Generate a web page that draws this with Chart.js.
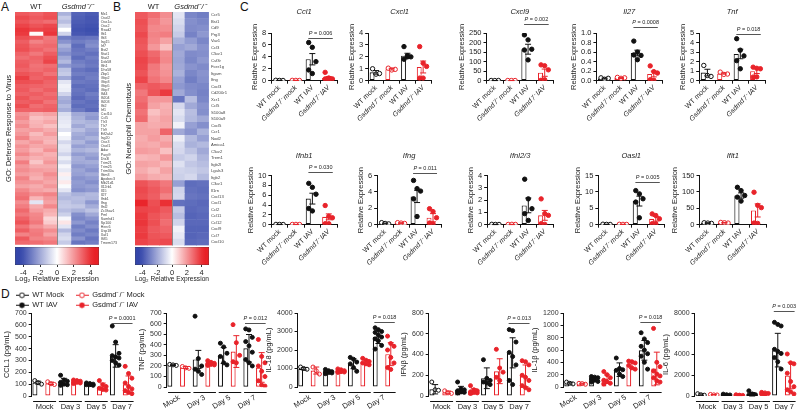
<!DOCTYPE html>
<html>
<head>
<meta charset="utf-8">
<script src="https://cdn.jsdelivr.net/npm/chart.js@4.4.1/dist/chart.umd.min.js"></script>
<style>
  body { margin: 0; background: #fff; }
  #fig { position: relative; width: 800px; height: 410px; overflow: hidden; font-family: "Liberation Sans", Arial, sans-serif; }
  #fig canvas { position: absolute; }
  .panel { position: absolute; font-size: 12px; color: #111; line-height: 12px; }
</style>
</head>
<body>
<div id="fig">
  <div class="panel" style="left:1px;top:1px">A</div>
  <div class="panel" style="left:113px;top:1px">B</div>
  <div class="panel" style="left:240px;top:1px">C</div>
  <div class="panel" style="left:1px;top:288px">D</div>
</div>
<script>
// ------------------ DATA -------------------//
const heatGroups = ["WT", "Gsdmd⁻/⁻"];
const colorRange = [-5, 5];
const colorTicks = [-4, -2, 0, 2, 4];

const defenseGenes = ["Mx1","Oasl2","Oas1a","Oas2","Rsad2","Ifit1","Ifit3","Isg15","Irf7","Bst2",
  "Stat1","Stat2","Ddx58","Ifih1","Dhx58","Zbp1","Gbp2","Gbp3","Gbp5","Gbp7",
  "Ifi44","Ifi204","Ifi203","Ifit2","Irf1","Cxcl10","Ccl5","Tlr3","Tlr7","Tlr9",
  "Eif2ak2","Isg20","Oas3","Oasl1","Adar","Parp9","Dtx3l","Trim21","Trim25","Trim30a",
  "Ifitm3","Apobec3","Mb21d1","Il12rb1","Il15","Il27","Ifnb1","Ifng","Ifnl2","Zc3hav1",
  "Pml","Samhd1","Sp100","Herc6","Usp18","Xaf1","Ifi35","Tmem173"];
// rows: WT1, WT2, WT3, KO1, KO2, KO3 (log2 relative expression)
const defenseHeat = [
  [3.2,3.0,3.3,-1.8,-3.6,-3.8],[3.5,3.2,3.4,-1.2,-3.7,-3.9],[3.3,3.0,2.8,-1.5,-3.8,-3.9],
  [3.6,3.3,3.5,-0.9,-3.9,-4.0],[3.9,3.6,3.7,0.0,-4.0,-4.1],[3.8,0.1,3.9,-1.0,-3.9,-4.0],
  [3.4,3.2,2.6,-3.0,-3.3,-3.2],[3.1,2.4,2.7,-2.5,-3.0,-2.8],[3.3,2.8,2.9,-1.8,-3.4,-2.6],
  [3.4,3.0,2.7,-2.2,-3.2,-3.0],[3.0,2.6,3.1,-2.6,-3.1,-3.3],[2.8,3.0,3.4,-2.0,-3.4,-3.0],
  [3.1,2.9,3.6,-1.6,-3.0,-3.2],[3.2,2.7,2.8,-2.4,-2.8,-3.1],[3.0,2.8,3.0,-1.4,-3.2,-3.4],
  [3.3,3.1,2.7,-1.2,-3.0,-3.1],[3.7,3.0,3.2,-2.0,-3.3,-3.0],[3.4,3.3,3.0,-0.6,-3.1,-3.2],
  [3.1,3.0,2.9,-0.3,-3.4,-3.3],[3.2,2.8,3.1,-0.4,-3.2,-3.4],[3.0,3.1,2.8,-1.0,-3.3,-3.0],
  [3.3,2.9,3.0,-1.8,-3.5,-3.2],[3.1,3.2,2.7,-2.0,-3.2,-3.4],[3.4,2.8,3.0,-1.6,-3.4,-3.3],
  [3.0,3.0,3.1,-1.9,-3.1,-3.5],[2.1,1.6,1.8,-0.8,-2.0,-2.2],[2.3,1.2,1.4,-0.6,-1.8,-2.4],
  [1.9,1.4,1.7,-0.5,-1.6,-1.8],[2.2,1.5,1.2,-0.4,-2.0,-1.6],[1.8,1.9,1.6,-0.7,-1.5,-2.0],
  [2.0,1.3,1.9,0.0,-1.9,-2.2],[2.4,1.6,1.5,-0.3,-2.1,-1.8],[1.7,2.0,1.4,-0.9,-1.7,-2.3],
  [2.1,1.7,1.8,-0.5,-2.2,-2.0],[1.9,1.4,2.1,-0.6,-1.8,-1.6],[2.3,1.8,1.5,-1.0,-2.3,-2.1],
  [1.8,1.5,1.7,-0.4,-1.9,-2.4],[2.5,1.1,2.0,-0.8,-2.0,-1.9],[2.0,1.6,1.6,-0.2,-2.4,-2.2],
  [2.2,1.9,1.8,-0.5,-2.1,-2.5],[1.9,1.7,2.2,0.3,-2.2,-2.0],[2.4,1.5,1.9,-0.3,-2.5,-2.3],
  [2.1,2.0,1.7,0.4,-2.3,-2.6],[1.8,1.6,2.0,-0.1,-2.4,-2.2],[2.3,1.8,1.6,-0.6,-2.6,-2.4],
  [2.6,2.2,2.4,-1.4,-1.8,-1.6],[2.8,1.4,2.0,-1.6,-1.5,-1.7],[2.2,-0.6,1.8,-1.3,-1.6,-2.4],
  [2.5,1.6,2.3,-1.2,-1.3,-1.9],[2.9,1.9,1.6,-1.5,-1.8,-1.4],[2.6,2.3,1.4,-1.1,-2.6,-2.0],
  [3.0,2.4,0.8,-0.2,-2.8,-2.5],[3.3,2.6,1.0,0.5,-2.4,-2.9],[2.7,2.1,1.6,-0.6,-3.0,-2.6],
  [3.1,2.5,2.2,-1.6,-2.7,-3.1],[2.4,2.6,1.8,-1.0,-3.0,-2.8],[3.2,2.4,2.3,-0.8,-2.5,-3.2],
  [2.9,2.8,2.6,-1.2,-3.2,-3.0]
];

const neutroGenes = ["Ccr5","Bst1","Cd9","Prg3","Vav1","Ccl3","C5ar1","Csf3r","Fcer1g","Itgam",
  "Ifng","Cxcl3","Cd200r1","Xcr1","Ccl5","S100a8","S100a9","Cxcl5","Ccr1","Nod2",
  "Amica1","C5ar2","Trem1","Itgb2l","Lgals3","Itgb2","C3ar1","Il1rn","Cxcl13","Cxcl1",
  "Ccl2","Ccl11","Ccl12","Cxcl9","Ccl7","Cxcl10"];
const neutroHeat = [
  [3.2,2.8,2.2,-0.6,-2.8,-3.0],[3.4,2.5,2.0,-0.8,-2.6,-2.8],[3.3,2.3,2.2,-1.0,-2.7,-2.6],
  [3.5,2.4,2.5,-1.2,-2.9,-2.4],[3.3,2.3,1.8,-1.8,-2.3,-2.8],[3.2,2.0,1.2,-2.2,-2.0,-2.5],
  [3.4,2.9,2.2,-2.0,-2.7,-2.6],[3.6,3.1,2.3,-2.1,-2.8,-2.4],[3.5,2.6,2.0,-2.0,-2.5,-2.7],
  [3.3,2.5,2.1,-1.8,-2.8,-2.5],[3.6,2.7,2.3,-2.2,-3.0,-2.6],[3.0,3.2,3.0,-2.4,-2.7,-2.8],
  [2.6,3.3,3.8,-2.0,-2.6,-2.9],[2.8,2.0,2.0,-3.2,-1.5,-2.8],[3.0,1.8,1.5,-0.9,-2.0,-2.5],
  [2.7,1.2,1.6,-0.6,-1.5,-2.6],[2.9,1.5,1.8,-0.8,-1.6,-2.0],[1.8,1.6,1.7,-0.3,-2.2,-2.6],
  [1.8,1.8,3.0,-2.0,-2.5,-1.8],[1.6,1.9,1.6,-0.4,-1.6,-2.2],[1.7,1.6,1.9,-0.8,-1.8,-1.6],
  [1.9,1.8,1.2,-0.9,-1.4,-2.0],[1.4,1.5,2.0,-1.2,-1.0,-1.7],[1.8,1.7,1.4,-0.7,-1.3,-1.5],
  [1.6,1.3,1.8,-1.0,-1.1,-1.3],[1.9,1.6,1.5,-1.1,-0.9,-1.6],[3.3,3.0,2.6,-2.2,-3.4,-3.3],
  [3.5,3.2,2.8,-1.0,-3.3,-3.4],[3.4,3.1,2.4,-0.9,-3.2,-3.3],[4.2,3.4,4.0,-3.3,-3.4,-3.5],
  [3.6,3.5,3.2,-1.2,-3.5,-3.4],[3.8,3.3,3.0,-1.5,-3.6,-3.5],[3.9,3.4,2.8,-1.0,-3.5,-3.5],
  [3.7,3.2,3.0,-0.3,-3.6,-3.6],[3.8,3.3,3.2,-0.5,-3.6,-3.5],[3.6,3.4,3.5,-0.8,-3.5,-3.4]
];

// qPCR panels: WT mock, Gsdmd mock, WT IAV, Gsdmd IAV
const exprLabels = ["WT mock", "Gsdmd⁻/⁻ mock", "WT IAV", "Gsdmd⁻/⁻ IAV"];
const ccl1Bar = [0.05, 0.05, 3.6, 0.45];
const ccl1Err = [0.02, 0.02, 0.95, 0.25];
const ccl1Pts = [[0.07, 0.05, 0.04], [0.06, 0.05, 0.04], [6.4, 5.6, 3.2, 1.8, 1.2], [1.4, 0.45, 0.3, 0.3, 0.25]];
const cxcl1Bar = [0.7, 0.97, 2.1, 1.15];
const cxcl1Err = [0.15, 0.07, 0.2, 0.5];
const cxcl1Pts = [[1.0, 0.55, 0.6], [1.05, 0.9, 0.95], [2.86, 2.0, 2.0, 1.8, 2.1], [2.86, 1.47, 1.2, 0.22, 0.22]];
const cxcl9Bar = [1, 1, 165, 42];
const cxcl9Err = [0.3, 0.3, 26, 19];
const cxcl9Pts = [[1.2, 0.8, 1.0], [1.1, 0.9, 1.0], [240, 214, 165, 161, 109], [83, 78, 57, 2, 5]];
const il27Bar = [0.045, 0.055, 0.58, 0.14];
const il27Err = [0.01, 0.01, 0.06, 0.06];
const il27Pts = [[0.06, 0.03, 0.05], [0.07, 0.05, 0.06], [0.83, 0.6, 0.53, 0.54, 0.44], [0.31, 0.19, 0.16, 0.02, 0.01]];
const tnfBar = [0.85, 0.75, 2.8, 1.0];
const tnfErr = [0.35, 0.06, 0.5, 0.25];
const tnfPts = [[1.6, 0.55, 0.45], [0.9, 0.66, 0.7], [4.4, 3.2, 2.6, 2.1, 1.25], [1.42, 1.3, 1.25, 0.38, 0.4]];
const ifnb1Bar = [0.05, 0.05, 5.3, 1.6];
const ifnb1Err = [0.02, 0.02, 1.1, 0.6];
const ifnb1Pts = [[0.06, 0.05, 0.04], [0.05, 0.06, 0.04], [8.4, 7.6, 6.2, 3.3, 2.8], [3.9, 1.7, 1.4, 0.2, 0.2]];
const ifngBar = [0.15, 0.2, 3.45, 0.85];
const ifngErr = [0.05, 0.04, 0.75, 0.5];
const ifngPts = [[0.25, 0.15, 0.1], [0.25, 0.2, 0.15], [5.4, 4.4, 4.1, 3.15, 1.0], [1.95, 1.6, 0.85, 0.2, 0.1]];
const ifnl23Bar = [0.02, 0.02, 1.57, 0.76];
const ifnl23Err = [0.01, 0.01, 0.6, 0.4];
const ifnl23Pts = [[0.03, 0.02, 0.02], [0.02, 0.03, 0.02], [3.7, 2.1, 1.3, 0.9, 0.35], [2.1, 0.9, 0.76, 0.08, 0.03]];
const oasl1Bar = [0.1, 0.1, 7.2, 1.8];
const oasl1Err = [0.03, 0.03, 1.5, 0.7];
const oasl1Pts = [[0.15, 0.1, 0.08], [0.12, 0.1, 0.08], [10.4, 9.4, 7.9, 6.9, 2.1], [3.3, 2.8, 1.8, 0.3, 0.3]];
const ifit1Bar = [5, 6, 89, 43.5];
const ifit1Err = [1, 1, 8, 20];
const ifit1Pts = [[6, 5, 4], [7, 6, 5], [114, 104, 89, 84, 72], [99, 59, 52, 5, 4]];

// cytokine panels: Mock, Day 3, Day 5, Day 7 x (WT, Gsdmd)
const cytoCats = ["Mock WT", "Mock KO", "D3 WT", "D3 KO", "D5 WT", "D5 KO", "D7 WT", "D7 KO"];
const cytoGroups = ["Mock", "Day 3", "Day 5", "Day 7"];
const legendWt = ["WT Mock", "WT IAV"];
const legendKo = ["Gsdmd⁻/⁻ Mock", "Gsdmd⁻/⁻ IAV"];
const ccl1PgBar = [113, 107, 121, 121, 99, 79, 338, 99];
const ccl1PgErr = [12, 10, 28, 10, 8, 30, 95, 70];
const ccl1PgPts = [[130, 112, 100], [120, 103, 97], [175, 135, 125, 115, 100, 95, 90], [135, 130, 125, 120, 115, 110, 105],
  [110, 105, 100, 95, 95, 90], [130, 95, 80, 65, 55, 50], [590, 455, 360, 340, 330, 320, 300, 280, 260], [250, 190, 150, 110, 80, 60, 45, 30, 20]];
const tnfPgBar = [210, 185, 262, 222, 298, 336, 367, 186];
const tnfPgErr = [6, 9, 85, 15, 75, 150, 130, 140];
const tnfPgPts = [[215, 210, 205], [195, 182, 178], [670, 270, 200, 170, 150, 120], [250, 235, 225, 220, 215, 210, 205],
  [415, 380, 320, 290, 230, 210], [590, 420, 300, 240, 230], [550, 540, 470, 430, 390, 330, 260, 230, 200], [450, 290, 230, 200, 150, 100, 60, 20, 10]];
const il18PgBar = [985, 890, 805, 855, 1260, 1340, 2710, 1775];
const il18PgErr = [60, 190, 75, 60, 270, 130, 360, 620];
const il18PgPts = [[1080, 1000, 960], [1080, 880, 700], [950, 880, 830, 800, 780, 760, 720], [980, 930, 880, 850, 830, 810, 790],
  [1600, 1500, 1350, 1250, 1050, 850], [1550, 1450, 1380, 1300, 1250, 1200], [3200, 3100, 3000, 2950, 2800, 2700, 2600, 2500, 2250, 2050], [2750, 2350, 2200, 2000, 1600, 1300, 1050, 950]];
const ifnbPgBar = [65, 35, 58, 45, 171, 239, 416, 194];
const ifnbPgErr = [45, 13, 35, 25, 100, 120, 145, 105];
const ifnbPgPts = [[135, 60, 55], [50, 30, 25], [135, 70, 60, 50, 40, 35, 30], [100, 60, 50, 40, 35, 30, 25],
  [350, 170, 150, 135, 125, 110], [450, 270, 230, 180, 150], [640, 630, 520, 420, 380, 300, 150, 110], [340, 330, 300, 200, 180, 150, 100, 80, 60]];
const il1bPgBar = [63, 53, 126, 126, 281, 353, 595, 300];
const il1bPgErr = [15, 8, 35, 70, 110, 55, 160, 265];
const il1bPgPts = [[80, 60, 50], [60, 55, 45], [170, 160, 150, 130, 110, 90, 80], [250, 200, 150, 110, 90, 60, 50],
  [470, 300, 280, 270, 210, 170], [420, 410, 390, 350, 310, 290], [880, 780, 720, 660, 600, 540, 500, 400, 290], [950, 400, 330, 260, 210, 180, 150, 100, 80]];
const il6PgBar = [130, 120, 100, 70, 160, 240, 4420, 1970];
const il6PgErr = [70, 25, 50, 30, 170, 80, 1620, 1280];
const il6PgPts = [[220, 120, 80], [150, 110, 100], [180, 120, 100, 80, 60], [120, 80, 60, 50, 40],
  [500, 200, 120, 80, 60], [350, 300, 250, 200, 150], [7100, 6900, 6750, 4500, 4300, 4100, 3700, 3300, 2600], [4050, 3200, 3100, 2200, 1400, 900, 600, 400, 200]];

// ------------------ SETUP -------------------//
const BLACK = "#111", RED = "#e8232a";
const fig = document.getElementById("fig");
Chart.defaults.font.family = '"Liberation Sans", Arial, sans-serif';
Chart.defaults.font.size = 7;
Chart.defaults.color = "#222";
Chart.defaults.responsive = false;
Chart.defaults.animation = false;
Chart.defaults.events = [];
Chart.defaults.plugins.legend.display = false;
Chart.defaults.plugins.tooltip.enabled = false;
const noGrid = { display: false, drawTicks: false };

function heatColor(v) {
  const t = Math.max(-1, Math.min(1, v / 4.3));
  const end = t < 0 ? [52, 70, 170] : [232, 32, 38];
  const a = Math.abs(t);
  return "rgb(" + end.map(e => Math.round(255 + (e - 255) * a)).join(",") + ")";
}
const jit = (k, w) => ((k % 3) - 1) * w;

// error bars drawn from the value scale
const errBars = {
  id: "errbars",
  afterDatasetsDraw(chart, args, o) {
    if (!o || !o.bar) return;
    const { ctx, scales: { x, y } } = chart;
    ctx.save();
    ctx.lineWidth = 1;
    o.bar.forEach((m, i) => {
      const px = x.getPixelForValue(i);
      const top = y.getPixelForValue(m + o.err[i]);
      const bot = y.getPixelForValue(Math.max(m - o.err[i], 0));
      ctx.strokeStyle = o.colors[i % o.colors.length];
      ctx.beginPath();
      ctx.moveTo(px, top); ctx.lineTo(px, bot);
      ctx.moveTo(px - o.cap, top); ctx.lineTo(px + o.cap, top);
      ctx.moveTo(px - o.cap, bot); ctx.lineTo(px + o.cap, bot);
      ctx.stroke();
    });
    ctx.restore();
  }
};
// P value bracket
const pBracket = {
  id: "pbracket",
  afterDatasetsDraw(chart, args, o) {
    if (!o || !o.text) return;
    const { ctx, scales: { x, y } } = chart;
    const x1 = x.getPixelForValue(o.from) - 4, x2 = x.getPixelForValue(o.to) + 4;
    const py = Math.round(y.getPixelForValue(o.y)) + 0.5;
    ctx.save();
    ctx.strokeStyle = "#555"; ctx.lineWidth = 1;
    ctx.beginPath(); ctx.moveTo(x1, py); ctx.lineTo(x2, py); ctx.stroke();
    ctx.fillStyle = "#222"; ctx.textBaseline = "bottom";
    const fam = Chart.defaults.font.family;
    ctx.font = "italic 5.5px " + fam;
    const pw = ctx.measureText("P").width;
    ctx.font = "5.5px " + fam;
    const rest = " = " + o.text;
    const tw = pw + ctx.measureText(rest).width;
    const sx = (x1 + x2) / 2 - tw / 2;
    ctx.fillText(rest, sx + pw, py - 2);
    ctx.font = "italic 5.5px " + fam;
    ctx.fillText("P", sx, py - 2);
    ctx.restore();
  }
};
// segmented x axis under the day groups
const groupLines = {
  id: "groupLines",
  afterDraw(chart, args, o) {
    if (!o || !o.pairs) return;
    const { ctx, scales: { x }, chartArea } = chart;
    const half = (chartArea.right - chartArea.left) / chart.data.labels.length * o.frac / 2;
    const py = Math.round(chartArea.bottom + o.gap) + 0.5;
    ctx.save();
    ctx.strokeStyle = BLACK; ctx.lineWidth = 1;
    for (let g = 0; g < o.pairs; g++) {
      ctx.beginPath();
      ctx.moveTo(x.getPixelForValue(2 * g) - half, py);
      ctx.lineTo(x.getPixelForValue(2 * g + 1) + half, py);
      ctx.stroke();
    }
    ctx.restore();
  }
};
// WT / KO divider in heatmaps
const divider = {
  id: "divider",
  afterDatasetsDraw(chart, args, o) {
    if (!o || o.at === undefined) return;
    const { ctx, scales: { x }, chartArea } = chart;
    const px = Math.round(x.getPixelForValue(o.at)) + 0.5;
    ctx.save();
    ctx.strokeStyle = "#8a8a8a"; ctx.lineWidth = 1;
    ctx.beginPath(); ctx.moveTo(px, chartArea.top); ctx.lineTo(px, chartArea.bottom); ctx.stroke();
    ctx.restore();
  }
};
Chart.register(errBars, pBracket, groupLines, divider);

// build a chart so that its plot area lands on box [left, top, right, bottom]
function place(make, box) {
  const canvas = document.createElement("canvas");
  fig.appendChild(canvas);
  const [l, t, r, b] = box;
  canvas.width = r - l + 80; canvas.height = b - t + 80;
  let chart = new Chart(canvas, make());
  const a = chart.chartArea;
  const w = canvas.width + (r - l) - (a.right - a.left);
  const h = canvas.height + (b - t) - (a.bottom - a.top);
  chart.destroy();
  canvas.width = Math.round(w); canvas.height = Math.round(h);
  chart = new Chart(canvas, make());
  canvas.style.left = Math.round(l - chart.chartArea.left) + "px";
  canvas.style.top = Math.round(t - chart.chartArea.top) + "px";
  return chart;
}

// ------------------ HEATMAPS -------------------//
function heatConfig(genes, rows, title, geneFont) {
  const cols = [0, 1, 2, 3, 4, 5].map(j => rows.map(r => r[j]));
  return {
    type: "bar",
    data: {
      labels: genes,
      datasets: cols.map(c => ({
        data: c.map(() => 1),
        backgroundColor: c.map(heatColor),
        borderWidth: 0, barPercentage: 1, categoryPercentage: 1
      }))
    },
    options: {
      indexAxis: "y",
      scales: {
        x: { stacked: true, min: 0, max: 6, display: false },
        xt: {
          type: "category", labels: heatGroups, position: "top", offset: true,
          grid: noGrid, border: { display: false },
          ticks: { padding: 1, autoSkip: false, maxRotation: 0, font: c => ({ size: 7.5, style: c.index === 1 ? "italic" : "normal" }) }
        },
        y: {
          stacked: true, position: "right", grid: noGrid, border: { display: false },
          ticks: { autoSkip: false, padding: 2, font: { size: geneFont }, color: "#444" }
        },
        yl: {
          type: "linear", position: "left", grid: noGrid, border: { display: false },
          ticks: { display: false },
          title: { display: true, text: title, font: { size: 7.5 }, padding: { top: 0, bottom: 2 } }
        }
      },
      plugins: { divider: { at: 3 } }
    }
  };
}
function colorBarConfig() {
  return {
    type: "bar",
    data: {
      labels: [""],
      datasets: [{
        data: [colorRange],
        backgroundColor: ctx => {
          const chart = ctx.chart;
          if (!chart.chartArea) return "#fff";
          const xs = chart.scales.x;
          const g = chart.ctx.createLinearGradient(xs.getPixelForValue(colorRange[0]), 0, xs.getPixelForValue(colorRange[1]), 0);
          for (let s = 0; s <= 20; s++) {
            const v = colorRange[0] + (colorRange[1] - colorRange[0]) * s / 20;
            g.addColorStop(s / 20, heatColor(v));
          }
          return g;
        },
        borderColor: "#333", borderWidth: 0.6, borderSkipped: false,
        barPercentage: 1, categoryPercentage: 1
      }]
    },
    options: {
      indexAxis: "y",
      scales: {
        x: {
          min: colorRange[0], max: colorRange[1],
          afterBuildTicks: s => { s.ticks = colorTicks.map(v => ({ value: v })); },
          grid: { drawOnChartArea: false, tickLength: 2, color: "#333" },
          border: { display: false },
          ticks: { font: { size: 7.5 }, padding: 1 },
          title: { display: true, text: "Log₂ Relative Expression", font: { size: 7.5 }, padding: { top: 8, bottom: 0 } }
        },
        y: { display: false }
      }
    }
  };
}
place(() => heatConfig(defenseGenes, defenseHeat, "GO: Defense Response to Virus", 3.6), [15, 12, 99, 245]);
place(() => heatConfig(neutroGenes, neutroHeat, "GO: Neutrophil Chemotaxis", 4.2), [135, 12, 209, 245]);
place(colorBarConfig, [15, 247, 99, 253]);
place(colorBarConfig, [135, 247, 209, 253]);

// ------------------ qPCR BAR CHARTS -------------------//
const exprColors = [BLACK, RED, BLACK, RED];
function exprConfig(g) {
  return {
    type: "bar",
    data: {
      labels: exprLabels,
      datasets: [
        { data: g.bar, backgroundColor: "#fff", borderColor: exprColors, borderWidth: 1.1, borderSkipped: false,
          barPercentage: 0.62, categoryPercentage: 1, order: 2 },
        ...g.pts.map((p, i) => ({
          type: "scatter", xAxisID: "xs", order: 1,
          data: p.map((v, k) => ({ x: i + jit(k, 0.22), y: v })),
          pointRadius: 2.2, pointBorderWidth: 1, pointBorderColor: exprColors[i],
          pointBackgroundColor: i < 2 ? "#fff" : exprColors[i]
        }))
      ]
    },
    options: {
      layout: { padding: { right: 2 } },
      scales: {
        x: {
          grid: { drawOnChartArea: false, tickLength: 3, color: BLACK }, border: { color: BLACK, width: 1 },
          ticks: { minRotation: 45, maxRotation: 45, autoSkip: false, padding: 0,
            font: c => ({ size: 7, style: c.index % 2 ? "italic" : "normal" }) }
        },
        xs: { type: "linear", min: -0.5, max: 3.5, offset: false, display: false },
        y: {
          min: 0, max: g.max,
          grid: { drawOnChartArea: false, tickLength: 3, color: BLACK }, border: { color: BLACK, width: 1 },
          ticks: { stepSize: g.step, autoSkip: false, padding: 2, font: { size: 7.5 }, callback: v => v.toFixed(g.dec) },
          title: { display: true, text: "Relative Expression", font: { size: 7.5 }, padding: { top: 0, bottom: 1 } }
        }
      },
      plugins: {
        title: { display: true, text: g.title, fullSize: false, font: { size: 7.5, style: "italic", weight: "normal" },
          padding: { top: 2, bottom: g.tpad } },
        errbars: { bar: g.bar, err: g.err, colors: exprColors, cap: 3 },
        pbracket: g.p
      }
    }
  };
}
const exprCharts = [
  { title: "Ccl1", bar: ccl1Bar, err: ccl1Err, pts: ccl1Pts, max: 8, step: 2, dec: 0, p: { from: 2, to: 3, y: 7.2, text: "0.006" }, box: [271, 33, 337, 81], tpad: 17 },
  { title: "Cxcl1", bar: cxcl1Bar, err: cxcl1Err, pts: cxcl1Pts, max: 4, step: 1, dec: 0, p: null, box: [368, 33, 431, 81], tpad: 17 },
  { title: "Cxcl9", bar: cxcl9Bar, err: cxcl9Err, pts: cxcl9Pts, max: 250, step: 50, dec: 0, p: { from: 2, to: 3, y: 295, text: "0.002" }, box: [487, 33, 553, 81], tpad: 17 },
  { title: "Il27", bar: il27Bar, err: il27Err, pts: il27Pts, max: 1, step: 0.2, dec: 1, p: { from: 2, to: 3, y: 1.12, text: "0.0008" }, box: [596, 33, 662, 81], tpad: 17 },
  { title: "Tnf", bar: tnfBar, err: tnfErr, pts: tnfPts, max: 5, step: 1, dec: 0, p: { from: 2, to: 3, y: 4.9, text: "0.018" }, box: [699, 33, 765, 81], tpad: 17 },
  { title: "Ifnb1", bar: ifnb1Bar, err: ifnb1Err, pts: ifnb1Pts, max: 10, step: 2, dec: 0, p: { from: 2, to: 3, y: 10.7, text: "0.030" }, box: [271, 175, 337, 224], tpad: 15.5 },
  { title: "Ifng", bar: ifngBar, err: ifngErr, pts: ifngPts, max: 6, step: 2, dec: 0, p: { from: 2, to: 3, y: 6.3, text: "0.011" }, box: [377, 175, 441, 224], tpad: 15.5 },
  { title: "Ifnl2/3", bar: ifnl23Bar, err: ifnl23Err, pts: ifnl23Pts, max: 4, step: 1, dec: 0, p: null, box: [487, 175, 553, 224], tpad: 15.5 },
  { title: "Oasl1", bar: oasl1Bar, err: oasl1Err, pts: oasl1Pts, max: 15, step: 5, dec: 0, p: { from: 2, to: 3, y: 13, text: "0.005" }, box: [598, 175, 664, 224], tpad: 15.5 },
  { title: "Ifit1", bar: ifit1Bar, err: ifit1Err, pts: ifit1Pts, max: 150, step: 50, dec: 0, p: null, box: [700, 175, 766, 224], tpad: 15.5 }
];
exprCharts.forEach(g => place(() => exprConfig(g), g.box));

// ------------------ CYTOKINE BAR CHARTS -------------------//
const cytoColors = [BLACK, RED];
function cytoConfig(g) {
  return {
    type: "bar",
    data: {
      labels: cytoCats,
      datasets: [
        { data: g.bar, backgroundColor: "#fff", borderColor: cytoCats.map((c, i) => cytoColors[i % 2]), borderWidth: 1.2,
          borderSkipped: false, barPercentage: 0.78, categoryPercentage: 1, order: 2 },
        ...g.pts.map((p, i) => ({
          type: "scatter", xAxisID: "xs", order: 1,
          data: p.map((v, k) => ({ x: i + jit(k, 0.26), y: v })),
          pointRadius: 2, pointBorderWidth: 1, pointBorderColor: cytoColors[i % 2],
          pointBackgroundColor: i < 2 ? "#fff" : cytoColors[i % 2]
        }))
      ]
    },
    options: {
      layout: { padding: { right: 2, top: 10 } },
      scales: {
        x: { display: false },
        xs: { type: "linear", min: -0.5, max: 7.5, offset: false, display: false },
        xg: {
          type: "category", labels: cytoGroups, offset: true, position: "bottom",
          grid: noGrid, border: { display: false },
          ticks: { padding: 6, font: { size: 7.5 } }
        },
        y: {
          min: 0, max: g.max,
          grid: { drawOnChartArea: false, tickLength: 3, color: BLACK }, border: { color: BLACK, width: 1 },
          ticks: { stepSize: g.step, autoSkip: false, padding: 2, font: { size: 7 }, color: "#333", callback: v => String(v) },
          title: { display: true, text: g.title, font: { size: 7.5 }, padding: { top: 0, bottom: 2 } }
        }
      },
      plugins: {
        errbars: { bar: g.bar, err: g.err, colors: cytoColors, cap: 3 },
        pbracket: g.p,
        groupLines: { pairs: 4, frac: 0.78, gap: 5 }
      }
    }
  };
}
const cytoCharts = [
  { title: "CCL1 (pg/mL)", bar: ccl1PgBar, err: ccl1PgErr, pts: ccl1PgPts, max: 700, step: 100, p: { from: 6, to: 7, y: 615, text: "0.0001" }, box: [32, 313, 135, 396] },
  { title: "TNF (pg/mL)", bar: tnfPgBar, err: tnfPgErr, pts: tnfPgPts, max: 700, step: 100, p: { from: 6, to: 7, y: 605, text: "0.012" }, box: [167, 313, 268, 396] },
  { title: "IL-18 (pg/mL)", bar: il18PgBar, err: il18PgErr, pts: il18PgPts, max: 4000, step: 1000, p: { from: 6, to: 7, y: 3500, text: "0.018" }, box: [298, 313, 397, 396] },
  { title: "IFNβ (pg/mL)", bar: ifnbPgBar, err: ifnbPgErr, pts: ifnbPgPts, max: 800, step: 200, p: { from: 6, to: 7, y: 705, text: "0.013" }, box: [429, 313, 532, 396] },
  { title: "IL-1β (pg/mL)", bar: il1bPgBar, err: il1bPgErr, pts: il1bPgPts, max: 1200, step: 200, p: { from: 6, to: 7, y: 1050, text: "0.018" }, box: [564, 313, 663, 396] },
  { title: "IL-6 (pg/mL)", bar: il6PgBar, err: il6PgErr, pts: il6PgPts, max: 8000, step: 2000, p: { from: 6, to: 7, y: 8150, text: "0.003" }, box: [695, 313, 797, 396] }
];
cytoCharts.forEach(g => place(() => cytoConfig(g), g.box));

// ------------------ LEGEND -------------------//
// marker: small circle with a line through it
function legendMarker(fill, stroke) {
  const m = document.createElement("canvas");
  m.width = 13; m.height = 7;
  const c = m.getContext("2d");
  c.strokeStyle = stroke; c.lineWidth = 1;
  c.beginPath(); c.moveTo(0, 3.5); c.lineTo(13, 3.5); c.stroke();
  c.beginPath(); c.arc(6.5, 3.5, 2.4, 0, Math.PI * 2);
  c.fillStyle = fill; c.fill(); c.stroke();
  return m;
}
function legendChart(names, color, left) {
  const cv = document.createElement("canvas");
  cv.width = 150; cv.height = 30;
  cv.style.left = left + "px"; cv.style.top = "289px";
  fig.appendChild(cv);
  new Chart(cv, {
    type: "scatter",
    data: {
      datasets: names.map((name, i) => ({
        label: name, data: [],
        pointStyle: legendMarker(i === 0 ? "#fff" : color, color),
        backgroundColor: color, borderColor: color
      }))
    },
    options: {
      layout: { padding: 0 },
      scales: { x: { display: false }, y: { display: false } },
      plugins: {
        legend: { display: true, position: "left", align: "start",
          labels: { usePointStyle: true, pointStyleWidth: 13, boxHeight: 7, padding: 2.5, font: { size: 7.5 }, color: "#222" } }
      }
    }
  });
}
legendChart(legendWt, BLACK, 13);
legendChart(legendKo, RED, 73);
</script>
</body>
</html>
